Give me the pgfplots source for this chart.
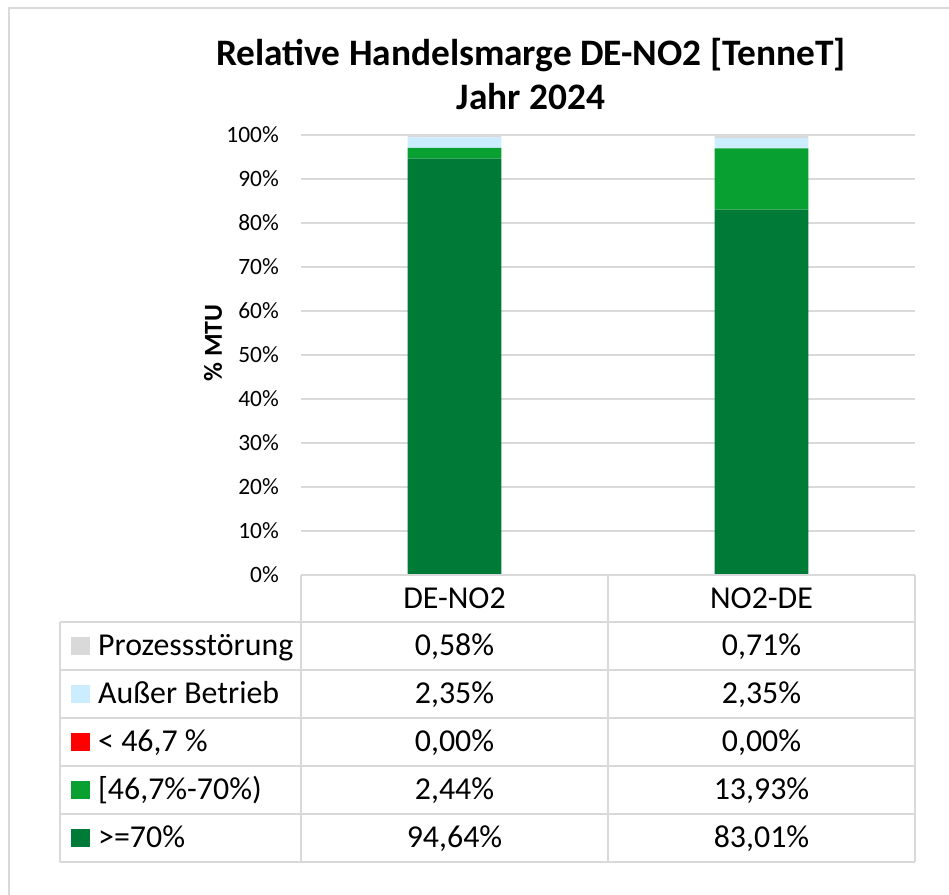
\documentclass[border=0pt]{standalone}
\usepackage{fontspec}
\setmainfont{Carlito}
\usepackage{pgfplots}
\pgfplotsset{compat=1.18}
\definecolor{cDark}{RGB}{0,122,55}
\definecolor{cMid}{RGB}{8,160,48}
\definecolor{cRed}{RGB}{255,0,0}
\definecolor{cBlue}{RGB}{204,236,255}
\definecolor{cGray}{RGB}{217,217,217}
\definecolor{cLine}{RGB}{217,217,217}
\newcommand{\tfont}{\fontsize{32}{38}\selectfont}
\begin{document}
\begin{tikzpicture}[x=1bp,y=1bp]
\path[use as bounding box] (0,0) rectangle (949,895);
\draw[cLine, line width=1.5bp] (9,0) -- (9,887) -- (949,887);
\begin{axis}[
  at={(301bp,320bp)}, anchor=south west,
  scale only axis, width=614bp, height=440bp,
  xmin=-0.5, xmax=1.5, ymin=0, ymax=100,
  ybar stacked, bar width=0.306,
  axis line style={draw=none},
  tick style={draw=none},
  xtick=\empty,
  ytick={0,10,...,100},
  yticklabel={\pgfmathprintnumber{\tick}\%},
  /pgf/number format/assume math mode=true,
  yticklabel style={font=\fontsize{23.5}{24}\selectfont, inner sep=0pt, anchor=east, xshift=-22bp},
  ymajorgrids,
  grid style={cLine, line width=1.3bp},
]
\addplot[fill=cDark, draw=none] coordinates {(0,94.64) (1,83.01)};
\addplot[fill=cMid, draw=none] coordinates {(0,2.44) (1,13.93)};
\addplot[fill=cRed, draw=none] coordinates {(0,0) (1,0)};
\addplot[fill=cBlue, draw=none] coordinates {(0,2.35) (1,2.35)};
\addplot[fill=cGray, draw=none] coordinates {(0,0.58) (1,0.71)};
\end{axis}
% title
\node[anchor=base, font=\fontsize{37.5}{40}\selectfont\bfseries] at (531,829) {Relative Handelsmarge DE-NO2 [TenneT]};
\node[anchor=base, font=\fontsize{37.5}{40}\selectfont\bfseries] at (531,785) {Jahr 2024};
% y label
\node[rotate=90, font=\fontsize{26}{28}\selectfont\bfseries] at (213,552) {\% MTU};
% data table
\begin{scope}[cLine, line width=2bp]
\draw (301,320) -- (915,320);
\foreach \yy in {273,225,177,129,81,33} \draw (60,\yy) -- (915,\yy);
\draw (301,320) -- (301,33);
\draw (608,320) -- (608,33);
\draw (915,320) -- (915,33);
\draw (60,273) -- (60,33);
\end{scope}
\node[anchor=base, font=\tfont] at (454.5,286.5) {DE-NO2};
\node[anchor=base, font=\tfont] at (761.5,286.5) {NO2-DE};
% rows
\foreach \yc/\col/\lab/\a/\b in {
  249/cGray/Prozessstörung/{0,58\%}/{0,71\%},
  201/cBlue/Außer Betrieb/{2,35\%}/{2,35\%},
  153/cRed/{< 46,7 \%}/{0,00\%}/{0,00\%},
  105/cMid/{[46,7\%-70\%)}/{2,44\%}/{13,93\%},
  57/cDark/{>=70\%}/{94,64\%}/{83,01\%}} {
  \fill[\col] (71,\yc-9) rectangle (90,\yc+9);
  \node[anchor=base west, inner sep=0pt, font=\tfont] at (98,\yc-10) {\lab};
  \node[anchor=base, inner sep=0pt, font=\tfont] at (454.5,\yc-10) {\a};
  \node[anchor=base, inner sep=0pt, font=\tfont] at (761.5,\yc-10) {\b};
}
\end{tikzpicture}
\end{document}
